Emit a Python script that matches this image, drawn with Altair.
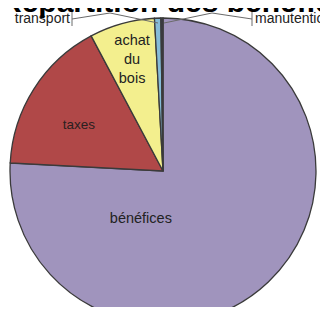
import altair as alt
import pandas as pd

categories = ["bénéfices", "taxes", "achat du bois", "transport", "manutention"]
values = [273.0, 59.0, 24.8, 2.4, 0.8]
colors = ["#a094bd", "#b04848", "#f3ef8e", "#86bcd8", "#3a3a48"]
title_text = "Répartition des bénéfices"

df = pd.DataFrame({"cat": categories, "val": values, "idx": list(range(len(categories)))})
one = pd.DataFrame({"k": [0]})

FONT = "Liberation Sans"
TWO_PI = 6.283185307179586
CX, CY = 155, 163  # pie centre inside the plot area

pie = alt.Chart(df).mark_arc(radius=153, stroke="#3a3a3a", strokeWidth=1.3).encode(
    theta=alt.Theta("val:Q", stack=True),
    order=alt.Order("idx:Q"),
    color=alt.Color("cat:N", scale=alt.Scale(domain=categories, range=colors), legend=None),
    x=alt.value(CX), y=alt.value(CY),
)

# label base: mid-angle of each slice, computed from the data before filtering
lab_base = alt.Chart(df).transform_joinaggregate(
    total="sum(val)"
).transform_window(
    cum="sum(val)", sort=[alt.SortField("idx")], frame=[None, 0]
).transform_calculate(
    frac="(datum.cum - datum.val / 2) / datum.total"
).encode(
    theta=alt.Theta("frac:Q", stack=None, scale=alt.Scale(domain=[0, 1], range=[0, TWO_PI])),
    text="cat:N",
    x=alt.value(CX), y=alt.value(CY),
)

lab_taxes = lab_base.mark_text(radius=96, thetaOffset=-0.066, font=FONT, fontSize=13.5,
                               color="#2a2020").transform_filter(alt.datum.cat == "taxes")
lab_achat = lab_base.mark_text(radius=115, dy=-19, font=FONT, fontSize=14.5, color="#222222",
                               lineBreak=" ", lineHeight=19).transform_filter(
    alt.datum.cat == "achat du bois"
)
lab_benef = lab_base.mark_text(radius=53, thetaOffset=1.19, font=FONT, fontSize=14.5,
                               color="#222222").transform_filter(alt.datum.cat == "bénéfices")

labels = alt.layer(lab_taxes, lab_achat, lab_benef)

title = alt.Chart(one).mark_text(align="left", baseline="alphabetic", font=FONT,
                                 fontSize=30, fontWeight="bold", color="#000000").encode(
    x=alt.value(-8), y=alt.value(4), text=alt.value(title_text)
)

lab_transport = alt.Chart(one).mark_text(align="right", baseline="alphabetic", font=FONT,
                                         fontSize=14, color="#222222").encode(
    x=alt.value(62), y=alt.value(15), text=alt.value("transport")
)
lab_manut = alt.Chart(one).mark_text(align="left", baseline="alphabetic", font=FONT,
                                     fontSize=14, color="#222222").encode(
    x=alt.value(247), y=alt.value(15), text=alt.value("manutention")
)

def seg(x1, y1, x2, y2):
    return alt.Chart(one).mark_rule(color="#6a6a6a", strokeWidth=1).encode(
        x=alt.value(x1), y=alt.value(y1), x2=alt.value(x2), y2=alt.value(y2)
    )

leaders = [
    seg(64, 4, 64, 18),
    seg(64, 11, 102, 5),
    seg(102, 5, 150, 15),
    seg(244, 4, 244, 18),
    seg(244, 11, 204, 5),
    seg(204, 5, 156, 15),
]

chart = alt.layer(pie, labels, *leaders, lab_transport, lab_manut, title).resolve_scale(
    theta="independent"
).properties(
    width=312, height=299,
    padding=0,
    autosize=alt.AutoSizeParams(type="none"),
    background="white",
).configure_view(stroke=None)

chart.save("out.html", embed_options={"renderer": "svg", "actions": False})
